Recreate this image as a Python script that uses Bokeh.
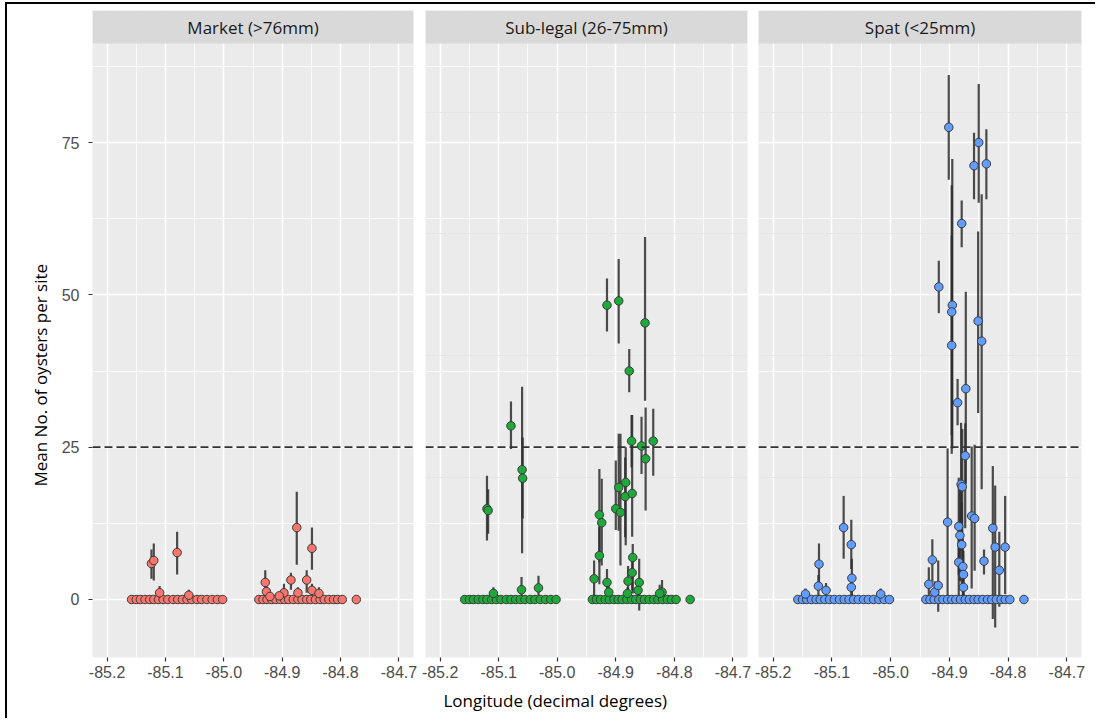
import math
from bokeh.plotting import figure
from bokeh.layouts import row
from bokeh.models import (ColumnDataSource, FixedTicker, Span, BoxAnnotation,
                          Label, Grid, Title)
from bokeh.embed import file_html
from bokeh.resources import INLINE

# ---------------- data ----------------
panel_titles = ["Market (>76mm)", "Sub-legal (26-75mm)", "Spat (<25mm)"]
panel_colors = ["#F8766D", "#1DAA3A", "#619CFF"]

x_ticks = [-85.2, -85.1, -85.0, -84.9, -84.8, -84.7]
x_tick_labels = ["-85.2", "-85.1", "-85.0", "-84.9", "-84.8", "-84.7"]
y_ticks = [0, 25, 50, 75]
threshold = 25
x_title = "Longitude (decimal degrees)"
y_title = "Mean No. of oysters per site"

# sites with zero oysters (longitude)
site_lon = [-85.158, -85.150, -85.143, -85.135, -85.127, -85.120, -85.112,
            -85.104, -85.096, -85.087, -85.079, -85.071, -85.063, -85.055,
            -85.046, -85.038, -85.029, -85.020, -85.011, -85.002,
            -84.940, -84.933, -84.926, -84.918, -84.911, -84.903, -84.896,
            -84.889, -84.881, -84.873, -84.866, -84.858, -84.851, -84.843,
            -84.835, -84.828, -84.820, -84.812, -84.805, -84.797, -84.773]

mk_lon = [-85.124, -85.120, -85.080, -85.110, -85.060, -84.875, -84.849,
          -84.929, -84.927, -84.885, -84.858, -84.897, -84.873, -84.849,
          -84.837, -84.921, -84.905]
mk_mean = [5.9, 6.4, 7.7, 1.1, 0.7, 11.8, 8.4, 2.8, 1.3, 3.2, 3.2, 1.1, 1.1,
           1.5, 1.0, 0.5, 0.6]
mk_lo = [3.4, 3.1, 4.1, 0.2, 0.1, 5.7, 4.9, 0.8, 0.3, 1.6, 1.1, 0.0, 0.2,
         0.4, 0.0, 0.0, 0.0]
mk_hi = [8.2, 9.2, 11.1, 2.2, 1.6, 17.7, 11.8, 4.8, 2.5, 4.4, 4.8, 2.6, 2.0,
         2.6, 2.0, 1.0, 1.2]

sl_lon = [-85.120, -85.118, -85.079, -85.060, -85.059, -85.061, -85.032,
          -85.109, -84.915, -84.895, -84.850, -84.877, -84.873, -84.856,
          -84.836, -84.849, -84.895, -84.883, -84.884, -84.872, -84.900,
          -84.892, -84.928, -84.924, -84.928, -84.937, -84.871, -84.872,
          -84.915, -84.879, -84.860, -84.862, -84.821, -84.825, -84.880,
          -84.912]
sl_mean = [14.9, 14.6, 28.5, 21.3, 19.9, 1.6, 1.9, 1.0, 48.3, 49.0, 45.4,
           37.5, 26.0, 25.2, 26.0, 23.1, 18.4, 19.2, 16.9, 17.4, 14.9, 14.3,
           13.9, 12.6, 7.2, 3.4, 6.9, 4.4, 2.8, 3.0, 2.8, 1.5, 1.2, 1.0, 1.0,
           1.2]
sl_lo = [9.7, 10.8, 24.7, 7.6, 13.3, 0.0, 0.0, 0.0, 44.0, 42.0, 32.6, 34.0,
         21.7, 20.6, 20.3, 14.6, 11.3, 8.9, 10.2, 10.3, 11.4, 5.6, 6.1, 5.6,
         2.5, 0.3, 1.0, 1.5, 0.5, 0.8, -1.8, 0.0, 0.0, 0.0, 0.0, 0.0]
sl_hi = [20.3, 18.1, 32.5, 34.9, 26.6, 3.7, 3.9, 2.0, 52.7, 55.9, 59.5, 41.1,
         30.3, 30.0, 31.3, 31.5, 27.2, 25.0, 23.3, 30.3, 22.8, 27.2, 21.4,
         19.8, 11.9, 6.4, 9.1, 7.5, 5.0, 5.5, 6.7, 3.0, 3.2, 2.4, 2.0, 2.8]

sp_lon = [-84.901, -84.850, -84.858, -84.837, -84.879, -84.918, -84.895,
          -84.896, -84.896, -84.851, -84.845, -84.872, -84.886, -84.873,
          -84.880, -84.878, -84.903, -84.862, -84.857, -84.826, -84.822,
          -84.805, -84.815, -84.841, -84.884, -84.882, -84.879, -84.884,
          -84.877, -84.876, -84.876, -84.929, -84.935, -84.925, -84.919,
          -85.080, -85.067, -85.066, -85.067, -85.122, -85.123, -85.110,
          -85.145, -85.017]
sp_mean = [77.5, 75.0, 71.2, 71.5, 61.7, 51.3, 48.3, 47.2, 41.7, 45.7, 42.4,
           34.6, 32.3, 23.6, 18.9, 18.5, 12.7, 13.7, 13.3, 11.7, 8.6, 8.6,
           4.8, 6.3, 12.0, 10.5, 9.0, 6.1, 5.4, 4.1, 2.0, 6.5, 2.5, 1.2, 2.3,
           11.8, 9.0, 3.5, 2.0, 5.8, 2.2, 1.5, 0.9, 0.9]
sp_lo = [68.9, 65.1, 65.7, 65.7, 57.8, 47.0, 24.8, 27.0, 23.9, 30.6, 18.1,
         19.0, 28.6, 11.7, 8.0, 9.0, 0.0, 1.8, 4.7, -3.2, -4.6, 0.9, -1.2,
         4.1, 4.0, 3.0, 2.0, 0.5, 0.5, 0.5, 0.0, 2.9, 0.0, 0.0, -2.0, 6.7,
         5.0, 0.5, 0.0, 1.7, 0.5, 0.3, 0.0, 0.0]
sp_hi = [86.1, 84.6, 76.6, 77.2, 65.5, 55.6, 72.3, 68.0, 59.8, 60.4, 66.5,
         50.5, 36.2, 28.9, 29.0, 28.0, 24.8, 25.1, 25.4, 21.9, 18.7, 17.0,
         11.1, 8.2, 20.0, 18.0, 16.0, 11.5, 10.0, 8.0, 4.0, 9.9, 5.3, 3.0,
         6.4, 17.0, 13.1, 6.7, 4.0, 9.2, 4.0, 2.7, 1.8, 1.8]

panels = [
    (mk_lon, mk_mean, mk_lo, mk_hi),
    (sl_lon, sl_mean, sl_lo, sl_hi),
    (sp_lon, sp_mean, sp_lo, sp_hi),
]

# ---------------- layout constants ----------------
X_RANGE = (-85.225, -84.675)
Y_RANGE = (-9.52, 96.67)
STRIP_BOTTOM = 91.25
FRAME_H = 647
frame_widths = [321, 322, 323]
borders_left = [85, 6, 6]
borders_right = [6, 5, 14]

TICK_FONT = "Liberation Sans"
TITLE_FONT = "Open Sans"

figs = []
for i, (title, color, (lon, mean, lo, hi)) in enumerate(
        zip(panel_titles, panel_colors, panels)):
    p = figure(frame_width=frame_widths[i], frame_height=FRAME_H,
               x_range=X_RANGE, y_range=Y_RANGE,
               output_backend="svg", toolbar_location=None,
               y_axis_location="left" if i == 0 else None,
               min_border_left=borders_left[i], min_border_right=borders_right[i],
               min_border_top=6, min_border_bottom=58)
    p.background_fill_color = "#EBEBEB"
    p.border_fill_color = "white"
    p.outline_line_color = None

    # axes
    p.xaxis.ticker = FixedTicker(ticks=x_ticks)
    p.xaxis.major_label_overrides = {t: l for t, l in zip(x_ticks, x_tick_labels)}
    for ax in p.axis:
        ax.axis_line_color = None
        ax.major_tick_in = 0
        ax.major_tick_out = 4
        ax.major_tick_line_color = "#333333"
        ax.major_tick_line_width = 1.2
        ax.minor_tick_line_color = None
        ax.major_label_text_font = TICK_FONT
        ax.major_label_text_font_size = "16px"
        ax.major_label_text_color = "#4D4D4D"
    p.xaxis.major_label_standoff = 4
    if i == 0:
        p.yaxis.ticker = FixedTicker(ticks=y_ticks)
        p.yaxis.major_label_standoff = 9

    # grids
    p.xgrid.ticker = FixedTicker(ticks=x_ticks,
                                 minor_ticks=[-85.15, -85.05, -84.95, -84.85, -84.75])
    if i == 0:
        p.ygrid.ticker = FixedTicker(ticks=y_ticks,
                                     minor_ticks=[-12.5, 12.5, 37.5, 62.5, 87.5])
        yg = p.ygrid[0]
    else:
        yg = Grid(dimension=1, ticker=FixedTicker(ticks=y_ticks,
                  minor_ticks=[-12.5, 12.5, 37.5, 62.5, 87.5]))
        p.add_layout(yg)
    for g in [p.xgrid[0], yg]:
        g.grid_line_color = "white"
        g.grid_line_width = 1.6
        g.minor_grid_line_color = "white"
        g.minor_grid_line_width = 0.8

    # threshold line
    p.add_layout(Span(location=threshold, dimension="width", line_color="#333333",
                      line_width=1.8, line_dash="8 4"))

    # zero sites
    zsrc = ColumnDataSource(dict(x=site_lon, y=[0] * len(site_lon)))
    # non-zero sites
    src = ColumnDataSource(dict(x=lon, y=mean, lo=lo, hi=hi))
    p.segment(x0="x", y0="lo", x1="x", y1="hi", source=src,
              line_color="#2E2E2E", line_width=2.2, line_alpha=0.85)
    p.scatter(x="x", y="y", source=zsrc, size=8.5, fill_color=color,
              line_color="#3A3A3A", line_width=1)
    p.scatter(x="x", y="y", source=src, size=8.5, fill_color=color,
              line_color="#3A3A3A", line_width=1)

    # strip header
    p.add_layout(BoxAnnotation(bottom=STRIP_BOTTOM, top=Y_RANGE[1],
                               fill_color="#D9D9D9", fill_alpha=1.0,
                               line_color=None))
    p.add_layout(Label(x=(X_RANGE[0] + X_RANGE[1]) / 2,
                       y=(STRIP_BOTTOM + Y_RANGE[1]) / 2,
                       text=title, text_align="center", text_baseline="middle",
                       text_font=TITLE_FONT, text_font_size="17px",
                       text_color="#1A1A1A"))

    if i == 0:
        p.add_layout(Title(text=y_title, align="left", offset=171, standoff=13,
                           text_font=TITLE_FONT, text_font_size="17px",
                           text_font_style="normal", text_color="#000000"), "left")
    if i == 1:
        p.add_layout(Title(text=x_title, align="left", offset=18, standoff=13,
                           text_font=TITLE_FONT, text_font_size="17px",
                           text_font_style="normal", text_color="#000000"), "below")
    figs.append(p)

layout = row(*figs, margin=(2, 0, 0, 5),
             styles={"border-left": "2px solid black", "border-top": "2px solid black"})

open("out.html", "w").write(file_html(layout, INLINE))
